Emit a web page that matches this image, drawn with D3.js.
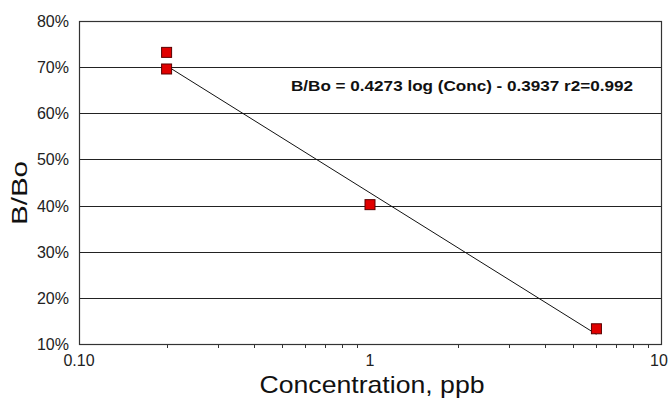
<!doctype html>
<html>
<head>
<style>
  body { margin: 0; background: #fff; }
  text { font-family: "Liberation Sans", Arial, sans-serif; }
</style>
</head>
<body>
    <div class="container"></div>

    <script src="https://d3js.org/d3.v7.min.js"></script>

    <script>
        // data
        const concentrations = [0.2, 0.2, 1, 6];
        const bBo = [73.2, 69.6, 40.2, 13.3];
        // fitted line end points (conc, %)
        const trendConc = [0.2, 6];
        const trendVal = [70.3, 12.1];
        const yTicks = [10, 20, 30, 40, 50, 60, 70, 80];
        const xMajor = [0.1, 1, 10];
        const xMajorLabels = ['0.10', '1', '10'];
        const equation = 'B/Bo = 0.4273 log (Conc) - 0.3937 r2=0.992';

        const W = 670, H = 405;
        const m = { left: 79, right: 9, top: 21, bottom: 61 };

        const svg = d3.select('.container').append('svg')
            .attr('width', W).attr('height', H);

        const x = d3.scaleLog().domain([0.1, 10]).range([m.left, W - m.right]);
        const y = d3.scaleLinear().domain([10, 80]).range([H - m.bottom, m.top]);

        // grid lines
        svg.append('g').selectAll('line').data(yTicks).enter().append('line')
            .attr('x1', m.left).attr('x2', W - m.right)
            .attr('y1', d => Math.round(y(d)) + 0.5).attr('y2', d => Math.round(y(d)) + 0.5)
            .attr('stroke', '#222').attr('stroke-width', 1);

        // plot border
        svg.append('rect')
            .attr('x', m.left + 0.5).attr('y', m.top + 0.5)
            .attr('width', W - m.right - m.left).attr('height', H - m.bottom - m.top)
            .attr('fill', 'none').attr('stroke', '#333').attr('stroke-width', 1.2);

        // y tick labels
        svg.append('g').selectAll('text').data(yTicks).enter().append('text')
            .attr('x', m.left - 10).attr('y', d => y(d) + 6)
            .attr('text-anchor', 'end').attr('font-size', 16).attr('fill', '#222')
            .text(d => d + '%');

        // x minor ticks
        const minor = [];
        [0.1, 1].forEach(dec => { for (let k = 2; k <= 9; k++) minor.push(dec * k); });
        svg.append('g').selectAll('line').data(minor).enter().append('line')
            .attr('x1', d => Math.round(x(d)) + 0.5).attr('x2', d => Math.round(x(d)) + 0.5)
            .attr('y1', H - m.bottom).attr('y2', H - m.bottom + 4)
            .attr('stroke', '#333');

        // x major labels
        svg.append('g').selectAll('text').data(xMajor).enter().append('text')
            .attr('x', (d, i) => x(d) + (i === 2 ? -2 : 0)).attr('y', H - m.bottom + 22)
            .attr('text-anchor', 'middle').attr('font-size', 16).attr('fill', '#222')
            .text((d, i) => xMajorLabels[i]);

        // trend line
        svg.append('line')
            .attr('x1', x(trendConc[0])).attr('y1', y(trendVal[0]))
            .attr('x2', x(trendConc[1])).attr('y2', y(trendVal[1]))
            .attr('stroke', '#111').attr('stroke-width', 1);

        // markers
        const pts = concentrations.map((c, i) => ({ c, v: bBo[i] }));
        svg.append('g').selectAll('rect').data(pts).enter().append('rect')
            .attr('x', d => x(d.c) - 5).attr('y', d => y(d.v) - 5)
            .attr('width', 10).attr('height', 10)
            .attr('fill', '#e00000').attr('stroke', '#5a0000').attr('stroke-width', 1);

        // equation
        svg.append('text')
            .attr('x', 291).attr('y', 91)
            .attr('font-size', 15).attr('font-weight', 'bold').attr('fill', '#111')
            .attr('textLength', 342).attr('lengthAdjust', 'spacingAndGlyphs')
            .text(equation);

        // axis titles
        svg.append('text')
            .attr('x', 372).attr('y', 393)
            .attr('text-anchor', 'middle').attr('font-size', 24).attr('fill', '#111')
            .attr('textLength', 225).attr('lengthAdjust', 'spacingAndGlyphs')
            .text('Concentration, ppb');

        svg.append('text')
            .attr('transform', 'translate(27,193) rotate(-90)')
            .attr('text-anchor', 'middle').attr('font-size', 22).attr('fill', '#111')
            .attr('textLength', 64).attr('lengthAdjust', 'spacingAndGlyphs')
            .text('B/Bo');
    </script>
</body>
</html>
